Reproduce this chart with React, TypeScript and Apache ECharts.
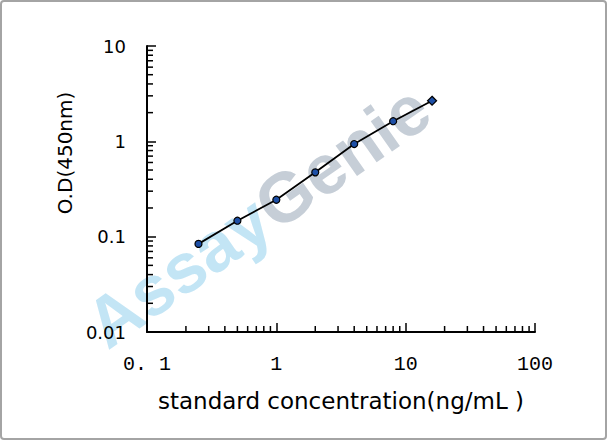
import React, { useEffect, useRef } from 'react'
import * as echarts from 'echarts'

// standard curve
const concentrations = [0.25, 0.5, 1, 2, 4, 8, 16]
const odValues = [0.084, 0.147, 0.244, 0.473, 0.937, 1.625, 2.666]

const xTickLabels = ['0. 1', '1', '10', '100']
const yTickLabels = ['0.01', '0.1', '1', '10']

// log minor ticks: 2..9 in each decade
const minorSteps = [2, 3, 4, 5, 6, 7, 8, 9]
const xDecades = [0.1, 1, 10]
const yDecades = [0.01, 0.1, 1]

const X_MIN = 0.1
const X_MAX = 100
const Y_MIN = 0.01
const Y_MAX = 10

export default function App() {
  const ref = useRef<HTMLDivElement | null>(null)

  useEffect(() => {
    if (!ref.current) return
    const chart = echarts.init(ref.current, undefined, { renderer: 'svg' })

    const xMinor = xDecades.flatMap(d => minorSteps.map(s => [d * s, Y_MIN]))
    const yMinor = yDecades.flatMap(d => minorSteps.map(s => [X_MIN, d * s]))
    const points = concentrations.map((c, i) => {
      const last = i === concentrations.length - 1
      return last ? { value: [c, odValues[i]], symbol: 'diamond', symbolSize: 9 } : { value: [c, odValues[i]] }
    })

    chart.setOption({
      animation: false,
      backgroundColor: '#fff',
      grid: { left: 147, right: 73, top: 46, bottom: 109 },
      graphic: [
        {
          type: 'rect',
          shape: { x: 1, y: 1, width: 605, height: 438, r: 3 },
          style: { fill: 'none', stroke: '#a4a4a4', lineWidth: 2 },
          silent: true,
        },
        {
          type: 'text',
          x: 258,
          y: 216,
          rotation: (35 * Math.PI) / 180,
          z: -1,
          silent: true,
          style: {
            text: '{a|Assay}{g|Genie}',
            align: 'center',
            verticalAlign: 'middle',
            rich: {
              a: { fill: '#c3e5f5', fontSize: 70, fontWeight: 'bold', fontFamily: 'Liberation Sans' },
              g: { fill: '#c6ced7', fontSize: 70, fontWeight: 'bold', fontFamily: 'Liberation Sans' },
            },
          },
        },
      ],
      xAxis: {
        type: 'log',
        logBase: 10,
        min: X_MIN,
        max: X_MAX,
        name: 'standard concentration(ng/mL )',
        nameLocation: 'middle',
        nameGap: 57,
        nameTextStyle: { color: '#000', fontSize: 23, fontFamily: 'DejaVu Sans', lineHeight: 23 },
        axisLine: { lineStyle: { color: '#000', width: 2 } },
        axisTick: { inside: true, length: 9, lineStyle: { color: '#000', width: 1.5 } },
        axisLabel: {
          margin: 22,
          color: '#000',
          fontSize: 20,
          fontFamily: 'Liberation Mono',
          formatter: (_v: number, i: number) => xTickLabels[i] ?? '',
        },
        splitLine: { show: false },
      },
      yAxis: {
        type: 'log',
        logBase: 10,
        min: Y_MIN,
        max: Y_MAX,
        name: 'O.D(450nm)',
        nameLocation: 'middle',
        nameGap: 46,
        nameTextStyle: { color: '#000', fontSize: 20, fontFamily: 'DejaVu Sans', padding: [0, 0, 0, 72] },
        axisLine: { lineStyle: { color: '#000', width: 2 } },
        axisTick: { inside: true, length: 9, lineStyle: { color: '#000', width: 1.5 } },
        axisLabel: {
          margin: 21,
          color: '#000',
          fontSize: 18,
          fontFamily: 'DejaVu Sans',
          formatter: (_v: number, i: number) => yTickLabels[i] ?? '',
        },
        splitLine: { show: false },
      },
      series: [
        {
          type: 'custom',
          silent: true,
          clip: false,
          data: xMinor,
          renderItem: (_p: any, api: any) => {
            const pt = api.coord([api.value(0), api.value(1)])
            return {
              type: 'line',
              shape: { x1: pt[0], y1: pt[1], x2: pt[0], y2: pt[1] - 6 },
              style: { stroke: '#000', lineWidth: 1.5 },
            }
          },
        },
        {
          type: 'custom',
          silent: true,
          clip: false,
          data: yMinor,
          renderItem: (_p: any, api: any) => {
            const pt = api.coord([api.value(0), api.value(1)])
            return {
              type: 'line',
              shape: { x1: pt[0], y1: pt[1], x2: pt[0] + 6, y2: pt[1] },
              style: { stroke: '#000', lineWidth: 1.5 },
            }
          },
        },
        {
          type: 'line',
          data: points,
          symbol: 'circle',
          symbolSize: 7,
          lineStyle: { color: '#000', width: 1.8 },
          itemStyle: { color: '#1d4fa6', borderColor: '#000', borderWidth: 1.2 },
          z: 5,
        },
      ],
    } as any)

    return () => chart.dispose()
  }, [])

  return (
    <div
      ref={ref}
      style={{ position: 'absolute', left: 0, top: 0, width: 608, height: 441 }}
    />
  )
}
